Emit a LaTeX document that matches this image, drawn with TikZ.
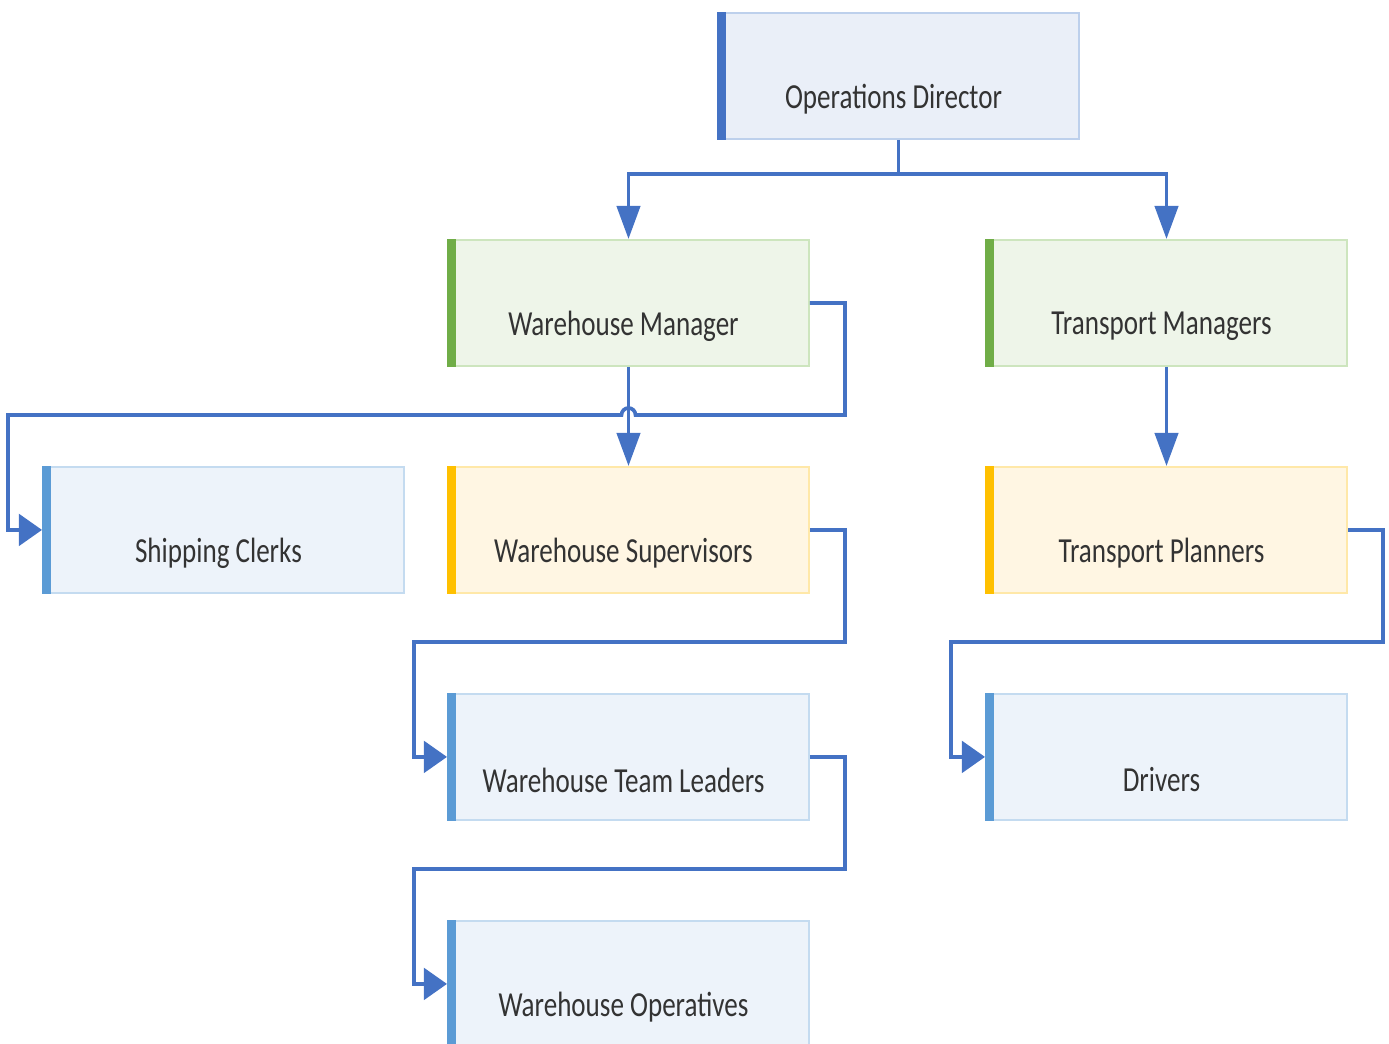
\documentclass[tikz,border=0pt]{standalone}
\usepackage{fontspec}
\setmainfont{Carlito}
\usetikzlibrary{arrows.meta,calc}
\definecolor{conn}{HTML}{4472C4}
\definecolor{txt}{HTML}{333333}
\definecolor{barD}{HTML}{4472C4}\definecolor{fillD}{HTML}{EAEFF8}\definecolor{brdD}{HTML}{BDD0EC}
\definecolor{barG}{HTML}{70AD47}\definecolor{fillG}{HTML}{EEF5E9}\definecolor{brdG}{HTML}{CDE5BE}
\definecolor{barY}{HTML}{FFC000}\definecolor{fillY}{HTML}{FFF6E3}\definecolor{brdY}{HTML}{FFE8A8}
\definecolor{barB}{HTML}{5B9BD5}\definecolor{fillB}{HTML}{EDF3FA}\definecolor{brdB}{HTML}{C4DBF0}
\tikzset{
  orgbox/.style={rectangle, anchor=north west, minimum width=3.61cm, minimum height=1.26cm, inner sep=0pt, line width=0.5pt},
  lbl/.style={font=\fontsize{10}{12}\selectfont, text=txt, inner sep=0pt},
  connV/.style={draw=conn, line width=1.05pt, -{Triangle[length=9.4pt,width=6.6pt]}},
  connH/.style={draw=conn, line width=1.05pt, -{Triangle[length=6.6pt,width=9pt]}}
}
\newcommand{\orgnode}[5]{%
  \node[orgbox, fill=fill#4, draw=brd#4] (#1) at (#2,#3) {};
  \fill[bar#4] (#1.north west) rectangle ([xshift=0.085cm]#1.south west);
  \node[lbl] (#1-t) at ([xshift=-0.05cm,yshift=-0.23cm]#1.center) {\scalebox{0.77}[1]{#5}};
}
\begin{document}
\begin{tikzpicture}[x=0.01cm,y=-0.01cm]
\useasboundingbox (0,0) rectangle (1389,1043);
\clip (0,0) rectangle (1389,1043);
\orgnode{OD}{717}{12}{D}{Operations Director}
\orgnode{WM}{447}{239}{G}{Warehouse Manager}
\orgnode{TM}{985}{239}{G}{Transport Managers}
\orgnode{SC}{42}{466}{B}{Shipping Clerks}
\orgnode{WS}{447}{466}{Y}{Warehouse Supervisors}
\orgnode{TP}{985}{466}{Y}{Transport Planners}
\orgnode{WTL}{447}{693}{B}{Warehouse Team Leaders}
\orgnode{DR}{985}{693}{B}{Drivers}
\orgnode{WO}{447}{920}{B}{Warehouse Operatives}
% Director to managers
\coordinate (odj) at ($(OD.south)+(0,34)$);
\draw[connV] (OD.south) -- (odj) -| (WM.north);
\draw[connV] (odj) -| (TM.north);
% WM -> WS
\draw[connV] (WM.south) -- (WS.north);
% WM -> SC with a jump over the vertical line
\coordinate (jmp) at (WM.south |- 0,415);
\draw[connH] (WM.east) -- ++(35,0) |- ([xshift=0.07cm]jmp)
  arc[start angle=0, end angle=-180, radius=7] -- (8,415) |- (SC.west);
% WS -> WTL
\draw[connH] (WS.east) -- ++(35,0) |- (414,642) |- (WTL.west);
% WTL -> WO
\draw[connH] (WTL.east) -- ++(35,0) |- (414,869) |- (WO.west);
% TM -> TP
\draw[connV] (TM.south) -- (TP.north);
% TP -> DR
\draw[connH] (TP.east) -- ++(35,0) |- (951,642) |- (DR.west);
\end{tikzpicture}
\end{document}
